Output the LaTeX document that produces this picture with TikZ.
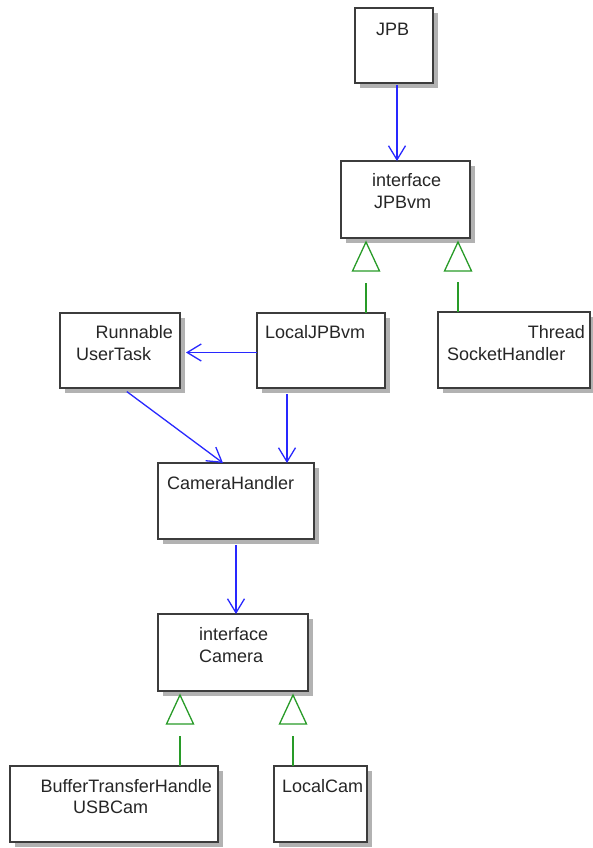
\documentclass[tikz,border=0pt]{standalone}
\usepackage{fontspec}
\setmainfont{Liberation Sans}
\usepackage{tikz}
\usetikzlibrary{arrows.meta, shadows}
\definecolor{assocblue}{RGB}{40,40,255}
\definecolor{implgreen}{RGB}{40,155,40}
\definecolor{boxline}{RGB}{60,60,60}

\begin{document}
\begin{tikzpicture}[x=1pt, y=-1pt,
  cls/.style={draw=boxline, line width=1.2pt, fill=white, anchor=north west, outer sep=0pt,
    drop shadow={shadow xshift=5pt, shadow yshift=-5pt, fill=gray!60, opacity=1}},
  txt/.style={inner sep=0pt, text=black!85, font=\fontsize{18}{21}\selectfont},
  assoc/.style={assocblue, line width=1.3pt, -{Straight Barb[length=14pt, width=17pt, line width=1.3pt]}},
  realize/.style={implgreen, line width=1.3pt}]
  \useasboundingbox (0,0) rectangle (592,848);

  % classes and interfaces
  \node[cls, minimum width=78pt,  minimum height=75pt] (jpb)        at (355,8)   {};
  \node[cls, minimum width=129pt, minimum height=77pt] (jpbvm)      at (341,161) {};
  \node[cls, minimum width=120pt, minimum height=75pt] (usertask)   at (60,313)  {};
  \node[cls, minimum width=128pt, minimum height=75pt] (localjpbvm) at (257,313) {};
  \node[cls, minimum width=152pt, minimum height=76pt] (sockhandler) at (438,312) {};
  \node[cls, minimum width=156pt, minimum height=76pt] (camhandler) at (158,463) {};
  \node[cls, minimum width=150pt, minimum height=77pt] (camera)     at (158,614) {};
  \node[cls, minimum width=208pt, minimum height=76pt] (usbcam)     at (10,766)  {};
  \node[cls, minimum width=93pt,  minimum height=76pt] (localcam)   at (274,766) {};

  % names and stereotypes
  \node[txt, anchor=base west] (jpbname)    at (376,36)  {JPB};
  \node[txt, anchor=base west] (jpbvmst)    at (372,186) {interface};
  \node[txt, anchor=base west] (jpbvmname)  at (374,208) {JPBvm};
  \node[txt, anchor=base east] (taskst)     at (173,338) {Runnable};
  \node[txt, anchor=base west] (taskname)   at (76,360)  {UserTask};
  \node[txt, anchor=base west] (localname)  at (265,338) {LocalJPBvm};
  \node[txt, anchor=base east] (sockst)     at (585,338) {Thread};
  \node[txt, anchor=base west] (sockname)   at (447,360) {SocketHandler};
  \node[txt, anchor=base west] (handlername) at (167,489) {CameraHandler};
  \node[txt, anchor=base west] (camst)      at (199,640) {interface};
  \node[txt, anchor=base west] (camname)    at (199,662) {Camera};
  \node[txt, anchor=base east] (usbst)      at (212,792) {BufferTransferHandle};
  \node[txt, anchor=base west] (usbname)    at (73,813)  {USBCam};
  \node[txt, anchor=base west] (lcamname)   at (282,792) {LocalCam};

  % associations
  \draw[assoc, shorten <=2pt] ([xshift=3pt]jpb.south) -- ([xshift=3pt]jpb.south |- jpbvm.north);
  \draw[assoc, shorten >=6pt] ([yshift=-2pt]localjpbvm.west) -- ([yshift=-2pt]usertask.east);
  \draw[assoc, shorten <=6pt] ([xshift=2pt]usertask.south) -- ([xshift=-13pt]camhandler.north);
  \draw[assoc, shorten <=6pt] ([xshift=-34pt]localjpbvm.south) -- ([xshift=-34pt]localjpbvm.south |- camhandler.north);
  \draw[assoc, shorten <=6pt] (camhandler.south) -- (camhandler.south |- camera.north);

  % realizations
  \foreach \x/\up/\kid in {366/jpbvm/localjpbvm, 458/jpbvm/sockhandler, 180/camera/usbcam, 293/camera/localcam}{
    \draw[realize] (\x,0 |- \kid.north) -- ++(0,-30);
    \draw[realize, line join=miter] (\x,0 |- \up.south) ++(0,4) -- ++(13.5,29) -- ++(-27,0) -- cycle;
  }
\end{tikzpicture}
\end{document}
